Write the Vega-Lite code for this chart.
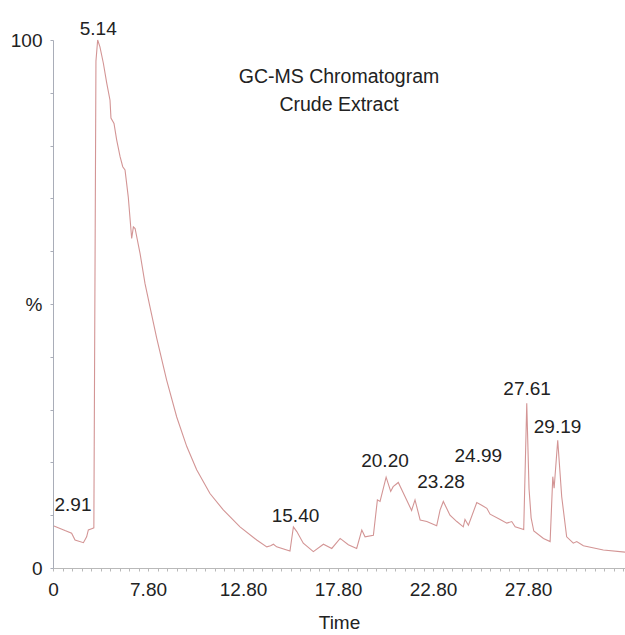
{
  "$schema": "https://vega.github.io/schema/vega-lite/v6.json",
  "width": 572,
  "height": 528,
  "autosize": {"type": "none"},
  "padding": {"left": 53, "top": 40, "right": 0, "bottom": 67},
  "background": "white",
  "title": {
    "text": ["GC-MS Chromatogram", "Crude Extract"],
    "anchor": "middle",
    "offset": -43,
    "dy": 67,
    "baseline": "alphabetic",
    "lineHeight": 28,
    "fontSize": 19.5,
    "font": "Liberation Sans",
    "fontWeight": "normal",
    "color": "#222222"
  },
  "config": {"view": {"stroke": null}, "font": "Liberation Sans"},
  "datasets": {
    "trace": [
      {"t": 2.85, "v": 7.95}, {"t": 3.17, "v": 7.5}, {"t": 3.43, "v": 7.1}, {"t": 3.78, "v": 6.6},
      {"t": 3.96, "v": 5.3}, {"t": 4.40, "v": 4.8}, {"t": 4.57, "v": 5.9}, {"t": 4.66, "v": 7.2},
      {"t": 4.87, "v": 7.5}, {"t": 4.95, "v": 7.6}, {"t": 5.06, "v": 96.0}, {"t": 5.15, "v": 100.0},
      {"t": 5.27, "v": 98.7}, {"t": 5.45, "v": 95.6}, {"t": 5.63, "v": 91.8}, {"t": 5.80, "v": 88.6},
      {"t": 5.85, "v": 85.2}, {"t": 6.01, "v": 84.2}, {"t": 6.15, "v": 81.1}, {"t": 6.33, "v": 77.9},
      {"t": 6.47, "v": 76.0}, {"t": 6.59, "v": 75.4}, {"t": 6.76, "v": 70.3}, {"t": 6.94, "v": 62.4},
      {"t": 7.03, "v": 64.6}, {"t": 7.12, "v": 64.3}, {"t": 7.38, "v": 59.6}, {"t": 7.64, "v": 53.9},
      {"t": 7.90, "v": 49.5}, {"t": 8.26, "v": 43.5}, {"t": 8.78, "v": 35.6}, {"t": 9.31, "v": 28.6},
      {"t": 9.84, "v": 23.0}, {"t": 10.36, "v": 18.6}, {"t": 11.06, "v": 14.1}, {"t": 11.76, "v": 11.0},
      {"t": 12.64, "v": 7.8}, {"t": 13.52, "v": 5.3}, {"t": 14.05, "v": 4.0}, {"t": 14.25, "v": 4.2},
      {"t": 14.40, "v": 4.5}, {"t": 14.57, "v": 4.0}, {"t": 15.27, "v": 3.2}, {"t": 15.45, "v": 7.8},
      {"t": 15.63, "v": 6.9}, {"t": 15.97, "v": 4.7}, {"t": 16.50, "v": 3.1}, {"t": 17.03, "v": 4.5},
      {"t": 17.47, "v": 3.7}, {"t": 17.91, "v": 5.6}, {"t": 18.34, "v": 4.4}, {"t": 18.78, "v": 3.7},
      {"t": 19.05, "v": 7.2}, {"t": 19.22, "v": 5.9}, {"t": 19.66, "v": 6.2}, {"t": 19.87, "v": 12.9},
      {"t": 20.01, "v": 12.6}, {"t": 20.33, "v": 17.2}, {"t": 20.57, "v": 14.5}, {"t": 20.70, "v": 15.4},
      {"t": 20.97, "v": 16.2}, {"t": 21.41, "v": 12.9}, {"t": 21.67, "v": 10.9}, {"t": 21.85, "v": 12.9},
      {"t": 22.12, "v": 9.1}, {"t": 22.47, "v": 8.8}, {"t": 22.99, "v": 8.0}, {"t": 23.17, "v": 11.0},
      {"t": 23.34, "v": 12.6}, {"t": 23.69, "v": 10.0}, {"t": 24.05, "v": 8.8}, {"t": 24.39, "v": 7.8},
      {"t": 24.48, "v": 9.2}, {"t": 24.66, "v": 8.1}, {"t": 25.10, "v": 12.4}, {"t": 25.36, "v": 11.9},
      {"t": 25.63, "v": 11.3}, {"t": 25.80, "v": 10.2}, {"t": 26.33, "v": 9.2}, {"t": 26.68, "v": 8.5},
      {"t": 26.94, "v": 8.8}, {"t": 27.12, "v": 7.8}, {"t": 27.57, "v": 7.3}, {"t": 27.73, "v": 31.2},
      {"t": 27.85, "v": 15.0}, {"t": 27.96, "v": 9.5}, {"t": 28.10, "v": 7.0}, {"t": 28.61, "v": 5.6},
      {"t": 28.96, "v": 5.0}, {"t": 29.10, "v": 17.3}, {"t": 29.17, "v": 15.1}, {"t": 29.36, "v": 24.2},
      {"t": 29.57, "v": 13.5}, {"t": 29.83, "v": 5.9}, {"t": 30.18, "v": 4.7}, {"t": 30.36, "v": 5.0},
      {"t": 30.71, "v": 4.2}, {"t": 31.76, "v": 3.4}, {"t": 32.90, "v": 3.0}
    ],
    "labels": [
      {"t": 5.18, "v": 100.9, "label": "5.14"},
      {"t": 3.85, "v": 10.8, "label": "2.91"},
      {"t": 15.56, "v": 8.8, "label": "15.40"},
      {"t": 20.27, "v": 19.2, "label": "20.20"},
      {"t": 23.22, "v": 15.2, "label": "23.28"},
      {"t": 25.18, "v": 20.1, "label": "24.99"},
      {"t": 27.75, "v": 32.8, "label": "27.61"},
      {"t": 29.35, "v": 25.6, "label": "29.19"}
    ]
  },
  "layer": [
    {
      "data": {"name": "trace"},
      "mark": {"type": "line", "color": "#d39595", "strokeWidth": 1.1, "clip": false},
      "encoding": {
        "x": {
          "field": "t",
          "type": "quantitative",
          "scale": {"domain": [2.8, 32.9], "nice": false, "zero": false},
          "axis": {
            "title": "Time",
            "values": [2.8, 3.3, 3.8, 4.3, 4.8, 5.3, 5.8, 6.3, 6.8, 7.3, 7.8, 8.3, 8.8, 9.3, 9.8, 10.3, 10.8, 11.3, 11.8, 12.3, 12.8, 13.3, 13.8, 14.3, 14.8, 15.3, 15.8, 16.3, 16.8, 17.3, 17.8, 18.3, 18.8, 19.3, 19.8, 20.3, 20.8, 21.3, 21.8, 22.3, 22.8, 23.3, 23.8, 24.3, 24.8, 25.3, 25.8, 26.3, 26.8, 27.3, 27.8, 28.3, 28.8, 29.3, 29.8, 30.3, 30.8, 31.3, 31.8, 32.3, 32.8],
            "tickCount": 80,
            "labelExpr": "datum.value == 2.8 ? '0' : (datum.value == 7.8 || datum.value == 12.8 || datum.value == 17.8 || datum.value == 22.8 || datum.value == 27.8) ? format(datum.value, '.2f') : ''",
            "grid": false,
            "domainColor": "#b9b9b9",
            "tickColor": "#b9b9b9",
            "tickSize": 3,
            "labelPadding": 9,
            "labelFontSize": 19,
            "labelFont": "Liberation Sans",
            "labelColor": "#222222",
            "labelOverlap": false,
            "labelFlush": false,
            "labelBound": false,
            "titleFontSize": 19,
            "titleFont": "Liberation Sans",
            "titleFontWeight": "normal",
            "titleColor": "#222222",
            "titlePadding": 14
          }
        },
        "y": {
          "field": "v",
          "type": "quantitative",
          "scale": {"domain": [0, 100], "nice": false},
          "axis": {
            "title": null,
            "values": [0, 10, 20, 30, 40, 50, 60, 70, 80, 90, 100],
            "tickCount": 20,
            "labelExpr": "datum.value == 0 ? '0' : datum.value == 50 ? '%' : datum.value == 100 ? '100' : ''",
            "grid": false,
            "domainColor": "#a9adb8",
            "tickColor": "#a9adb8",
            "tickSize": 3,
            "labelPadding": 8,
            "labelFontSize": 19,
            "labelFont": "Liberation Sans",
            "labelColor": "#222222",
            "labelOverlap": false,
            "labelFlush": false,
            "labelBound": false
          }
        }
      }
    },
    {
      "data": {"name": "labels"},
      "mark": {"type": "text", "baseline": "alphabetic", "align": "center", "fontSize": 19, "font": "Liberation Sans", "color": "#222222", "clip": false},
      "encoding": {
        "x": {"field": "t", "type": "quantitative"},
        "y": {"field": "v", "type": "quantitative"},
        "text": {"field": "label"}
      }
    }
  ]
}
